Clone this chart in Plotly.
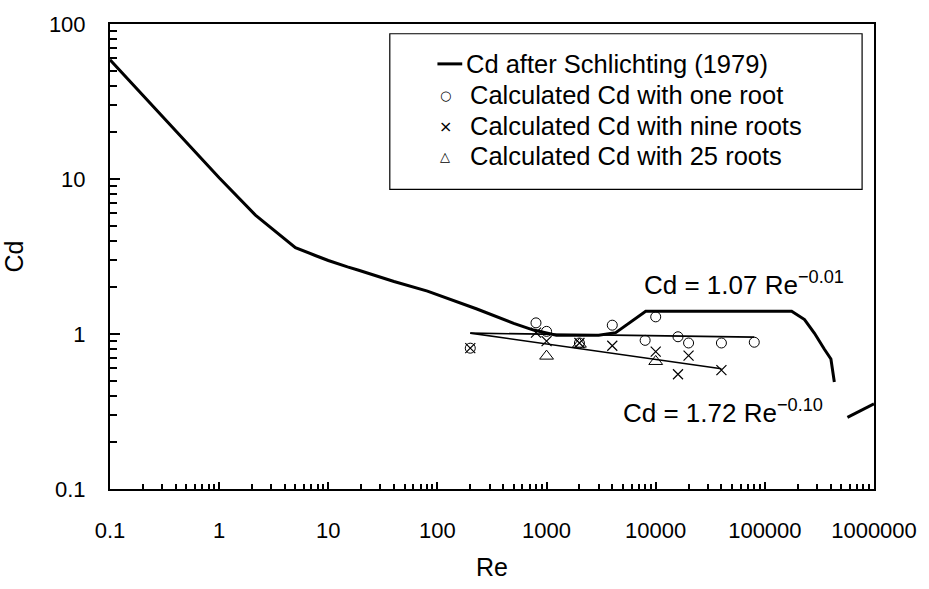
import plotly.graph_objects as go

# ---------------- data ----------------
schl_re = [0.1, 0.316, 1.0, 2.15, 5.0, 7.6, 10, 15, 19, 40, 81, 230, 500, 760, 1230, 3000,
           4300, 8100, 176000, 231000, 285000, 350000, 403000, 433000, None, 571000, 1000000]
schl_cd = [58.7, 24.5, 10.2, 5.85, 3.61, 3.21, 2.98, 2.71, 2.58, 2.18, 1.89, 1.45, 1.17, 1.06, 0.983, 0.983,
           1.02, 1.40, 1.40, 1.24, 1.01, 0.80, 0.69, 0.49, None, 0.29, 0.355]

one_re = [200, 800, 1000, 2000, 4000, 8000, 10000, 16000, 20000, 40000, 80000]
one_cd = [0.81, 1.18, 1.04, 0.875, 1.14, 0.91, 1.29, 0.96, 0.875, 0.875, 0.885]

nine_re = [200, 800, 1000, 2000, 4000, 10000, 16000, 20000, 40000]
nine_cd = [0.81, 1.02, 0.90, 0.875, 0.84, 0.77, 0.55, 0.725, 0.585]

tw5_re = [1000, 2000, 10000]
tw5_cd = [0.72, 0.86, 0.665]

fit1_re = [200, 80000]      # Cd = 1.07 Re^-0.01
fit1_cd = [1.013, 0.955]
fit2_re = [200, 40000]      # Cd = 1.72 Re^-0.10
fit2_cd = [1.013, 0.597]

x_tickvals = [0.1, 1, 10, 100, 1000, 10000, 100000, 1000000]
x_ticktext = ["0.1", "1", "10", "100", "1000", "10000", "100000", "1000000"]
y_tickvals = [0.1, 1, 10, 100]
y_ticktext = ["0.1", "1", "10", "100"]

legend_labels = ["Cd after Schlichting (1979)",
                 "Calculated Cd with one root",
                 "Calculated Cd with nine roots",
                 "Calculated Cd with 25 roots"]

FONT = "Liberation Sans, Arial, sans-serif"
W, H = 929, 589
L, R, T, B = 110, 49, 12, 99
PW, PH = W - L - R, H - T - B


def px(x):
    return (x - L) / PW


def py(y):
    return (H - B - y) / PH


fig = go.Figure()
fig.add_trace(go.Scatter(x=schl_re, y=schl_cd, mode="lines",
                         line=dict(color="black", width=3), connectgaps=False,
                         name=legend_labels[0], showlegend=False))
fig.add_trace(go.Scatter(x=fit1_re, y=fit1_cd, mode="lines",
                         line=dict(color="black", width=1.6), showlegend=False))
fig.add_trace(go.Scatter(x=fit2_re, y=fit2_cd, mode="lines",
                         line=dict(color="black", width=1.6), showlegend=False))
fig.add_trace(go.Scatter(x=one_re, y=one_cd, mode="markers", name=legend_labels[1],
                         marker=dict(symbol="circle-open", size=10, color="black",
                                     line=dict(width=1)), showlegend=False))
fig.add_trace(go.Scatter(x=nine_re, y=nine_cd, mode="markers", name=legend_labels[2],
                         marker=dict(symbol="x-thin-open", size=10, color="black",
                                     line=dict(width=1.2)), showlegend=False))
fig.add_trace(go.Scatter(x=tw5_re, y=tw5_cd, mode="markers", name=legend_labels[3],
                         marker=dict(symbol="triangle-up-open", size=12, color="black",
                                     line=dict(width=1)), showlegend=False))

minor_x = [m * 10 ** e for e in range(-1, 6) for m in range(2, 10)]
minor_y = [m * 10 ** e for e in range(-1, 2) for m in range(2, 10)]

fig.update_xaxes(type="log", range=[-1, 6], tickmode="array", tickvals=x_tickvals,
                 ticktext=x_ticktext, ticks="inside", ticklen=7, tickwidth=2,
                 tickcolor="black", showline=True, linecolor="black", linewidth=2,
                 mirror=True, showgrid=False, zeroline=False,
                 tickfont=dict(family=FONT, size=22, color="black"),
                 ticklabelstandoff=21,
                 minor=dict(tickmode="array", tickvals=minor_x, ticks="inside",
                            ticklen=5, tickwidth=2, tickcolor="black", showgrid=False),
                 title=dict(text="Re", font=dict(family=FONT, size=25, color="black"),
                            standoff=16))
fig.update_yaxes(type="log", range=[-1, 2], tickmode="array", tickvals=y_tickvals,
                 ticktext=y_ticktext, ticks="inside", ticklen=10, tickwidth=2,
                 tickcolor="black", showline=True, linecolor="black", linewidth=2,
                 mirror=True, showgrid=False, zeroline=False,
                 tickfont=dict(family=FONT, size=22, color="black"),
                 ticklabelstandoff=18,
                 minor=dict(tickmode="array", tickvals=minor_y, ticks="inside",
                            ticklen=7, tickwidth=2, tickcolor="black", showgrid=False),
                 title=dict(text="Cd", font=dict(family=FONT, size=25, color="black"),
                            standoff=19))

# legend box drawn manually
shapes = [
    dict(type="rect", xref="paper", yref="paper", x0=px(392), x1=px(868),
         y0=py(182), y1=py(22), line=dict(color="black", width=1.2),
         fillcolor="white", layer="below"),
    dict(type="line", xref="paper", yref="paper", x0=px(440), x1=px(465),
         y0=py(53), y1=py(53), line=dict(color="black", width=3)),
]
rows_y = [53, 85, 117, 148]
annotations = []
for i, lab in enumerate(legend_labels):
    annotations.append(dict(xref="paper", yref="paper", x=px(467 if i == 0 else 471),
                            y=py(rows_y[i]), xanchor="left", yanchor="middle",
                            text=lab, showarrow=False,
                            font=dict(family=FONT, size=25.5, color="black")))
for sym, yy, sz in [("○", rows_y[1], 13), ("×", rows_y[2], 16), ("△", rows_y[3], 13)]:
    annotations.append(dict(xref="paper", yref="paper", x=px(448), y=py(yy),
                            xanchor="center", yanchor="middle", text=sym,
                            showarrow=False,
                            font=dict(family="DejaVu Sans", size=sz, color="black")))

annotations.append(dict(xref="paper", yref="paper", x=px(646), y=py(279),
                        xanchor="left", yanchor="middle",
                        text="Cd = 1.07 Re<sup>−0.01</sup>", showarrow=False,
                        font=dict(family=FONT, size=26, color="black")))
annotations.append(dict(xref="paper", yref="paper", x=px(625), y=py(410),
                        xanchor="left", yanchor="middle",
                        text="Cd = 1.72 Re<sup>−0.10</sup>", showarrow=False,
                        font=dict(family=FONT, size=26, color="black")))

fig.update_layout(width=W, height=H, autosize=False,
                  margin=dict(l=L, r=R, t=T, b=B, pad=0),
                  paper_bgcolor="white", plot_bgcolor="white",
                  showlegend=False, shapes=shapes, annotations=annotations,
                  font=dict(family=FONT, color="black"))

fig.write_html("out.html")
